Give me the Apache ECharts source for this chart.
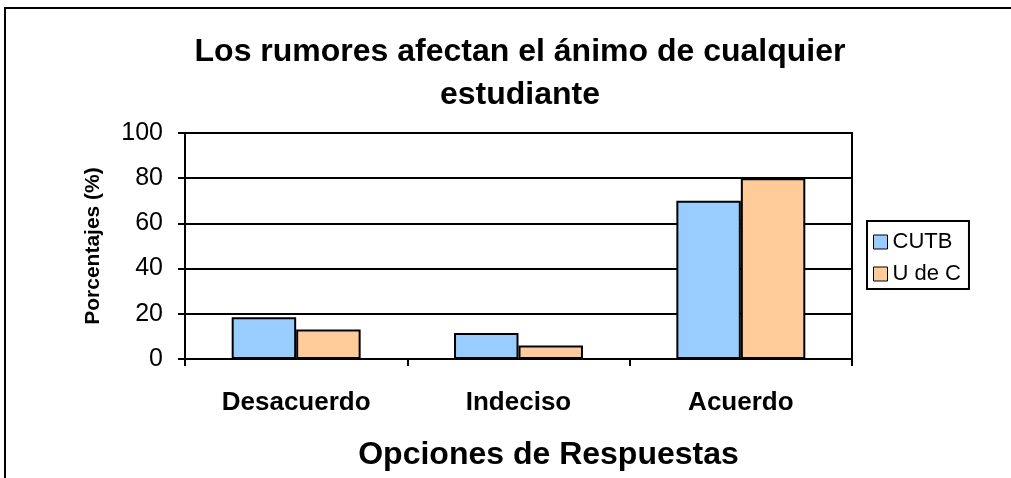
<!DOCTYPE html>
<html>
<head>
<meta charset="utf-8">
<script src="https://cdn.jsdelivr.net/npm/echarts@6/dist/echarts.min.js"></script>
<style>
  html, body { margin: 0; padding: 0; background: #fff; }
  #chart { width: 1011px; height: 478px; }
</style>
</head>
<body>
<div id="chart"></div>
<script>
const categories = ['Desacuerdo', 'Indeciso', 'Acuerdo'];
const cutb = [18.5, 11.5, 70];
const udec = [13, 6, 80];
const yTicks = [0, 20, 40, 60, 80, 100];

const font = '"Liberation Sans", Arial, sans-serif';
const chart = echarts.init(document.getElementById('chart'));

chart.setOption({
  animation: false,
  backgroundColor: '#fff',
  textStyle: { fontFamily: font, color: '#000' },
  title: {
    text: 'Los rumores afectan el ánimo de cualquier\nestudiante',
    left: 520,
    top: 31,
    padding: 0,
    textAlign: 'center',
    textStyle: { fontFamily: font, fontSize: 32, fontWeight: 'bold', color: '#000', lineHeight: 43 }
  },
  legend: {
    orient: 'vertical',
    left: 867,
    top: 221,
    padding: [10, 8, 4, 6],
    itemGap: 10,
    itemWidth: 14,
    itemHeight: 14,
    borderColor: '#000',
    borderWidth: 2,
    borderRadius: 0,
    textStyle: { fontFamily: font, fontSize: 22, color: '#000' },
    itemStyle: { borderColor: '#000', borderWidth: 1 },
    data: [{ name: 'CUTB', icon: 'rect' }, { name: 'U de C', icon: 'rect' }]
  },
  grid: {
    left: 185,
    top: 133,
    width: 667,
    height: 226,
    show: true,
    borderColor: '#000',
    borderWidth: 2,
    backgroundColor: 'transparent'
  },
  xAxis: {
    type: 'category',
    data: categories,
    name: 'Opciones de Respuestas',
    nameLocation: 'middle',
    nameGap: 80,
    nameTextStyle: { fontFamily: font, fontSize: 32, fontWeight: 'bold', color: '#000', padding: [0, 0, 0, 60] },
    axisLine: { lineStyle: { color: '#000', width: 2 } },
    axisTick: { show: true, length: 7, lineStyle: { color: '#000', width: 2 } },
    axisLabel: { fontFamily: font, fontSize: 26, fontWeight: 'bold', color: '#000', margin: 31 }
  },
  yAxis: {
    type: 'value',
    min: yTicks[0],
    max: yTicks[yTicks.length - 1],
    interval: 20,
    name: 'Porcentajes (%)',
    nameLocation: 'middle',
    nameGap: 81,
    nameTextStyle: { fontFamily: font, fontSize: 21, fontWeight: 'bold', color: '#000' },
    axisLine: { show: true, lineStyle: { color: '#000', width: 2 } },
    axisTick: { show: true, length: 7, lineStyle: { color: '#000', width: 2 } },
    axisLabel: { fontFamily: font, fontSize: 25, color: '#000', margin: 22 },
    splitLine: { show: true, lineStyle: { color: '#000', width: 2 } }
  },
  series: [
    {
      name: 'CUTB',
      type: 'bar',
      data: cutb,
      barGap: '0%',
      barCategoryGap: '42%',
      itemStyle: { color: '#99ccff', borderColor: '#000', borderWidth: 2 }
    },
    {
      name: 'U de C',
      type: 'bar',
      data: udec,
      itemStyle: { color: '#ffcc99', borderColor: '#000', borderWidth: 2 }
    }
  ],
  graphic: [
    {
      type: 'polyline',
      shape: { points: [[5, 478], [5, 8], [1011, 8]] },
      style: { fill: null, stroke: '#000', lineWidth: 2 },
      silent: true
    }
  ]
});
</script>
</body>
</html>
